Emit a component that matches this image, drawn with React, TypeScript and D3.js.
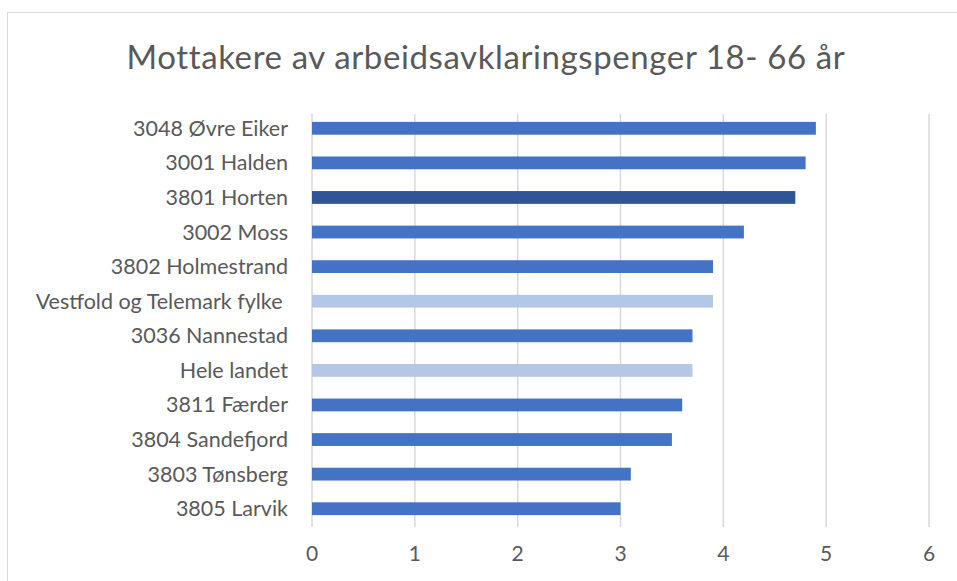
import React from "react";
import * as d3 from "d3";

const categories = [
  "3048 Øvre Eiker",
  "3001 Halden",
  "3801 Horten",
  "3002 Moss",
  "3802 Holmestrand",
  "Vestfold og Telemark fylke ",
  "3036 Nannestad",
  "Hele landet",
  "3811 Færder",
  "3804 Sandefjord",
  "3803 Tønsberg",
  "3805 Larvik",
];
const values = [4.9, 4.8, 4.7, 4.2, 3.9, 3.9, 3.7, 3.7, 3.6, 3.5, 3.1, 3.0];
const kinds = ["k", "k", "h", "k", "k", "a", "k", "a", "k", "k", "k", "k"];
const xTicks = [0, 1, 2, 3, 4, 5, 6];
const title = "Mottakere av arbeidsavklaringspenger 18- 66 år";

const colorOf: Record<string, string> = { k: "#4472C4", h: "#2F5597", a: "#B4C7E7" };

export default function App() {
  const W = 957, H = 581;
  const left = 312, right = 929, top = 111, bottom = 526;
  const x = d3.scaleLinear().domain([0, 6]).range([left, right]);
  const y = d3.scaleBand<string>().domain(categories).range([top, bottom]).paddingInner(0.63).paddingOuter(0.315);
  const font = "Lato, 'Open Sans', sans-serif";
  const textColor = "#595959";
  return (
    <svg width={W} height={H} style={{ position: "absolute", left: 0, top: 0, background: "#fff" }}>
      <rect x={7.5} y={12.5} width={W + 20} height={H + 20} fill="#fff" stroke="#d9d9d9" strokeWidth={1} />
      <text x={486} y={69} textAnchor="middle" fontFamily={font} fontSize={33} letterSpacing={0.6} fill={textColor}>{title}</text>
      {xTicks.map((t) => (
        <line key={"g" + t} x1={x(t)} x2={x(t)} y1={top + 3} y2={bottom + 1} stroke="#d9d9d9" strokeWidth={1.5} />
      ))}
      {categories.map((c, i) => (
        <rect key={c} x={x(0)} y={y(c)} width={x(values[i]) - x(0)} height={y.bandwidth()} fill={colorOf[kinds[i]]} />
      ))}
      {categories.map((c) => (
        <text key={"l" + c} x={288} y={(y(c) as number) + y.bandwidth() / 2} dy="0.35em" textAnchor="end"
          fontFamily={font} fontSize={21.5} fill={textColor} style={{ whiteSpace: "pre" }}>{c}</text>
      ))}
      {xTicks.map((t) => (
        <text key={"t" + t} x={x(t)} y={554} dy="0.35em" textAnchor="middle" fontFamily={font} fontSize={21} fill={textColor}>{t}</text>
      ))}
    </svg>
  );
}
